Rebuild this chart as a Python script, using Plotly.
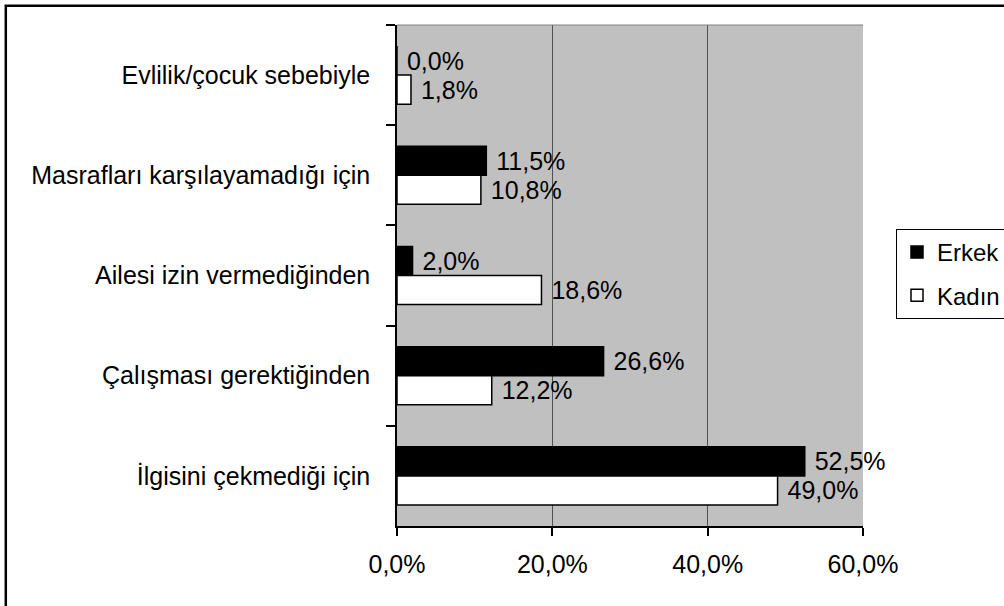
import plotly.graph_objects as go

categories = ["Evlilik/çocuk sebebiyle", "Masrafları karşılayamadığı için",
              "Ailesi izin vermediğinden", "Çalışması gerektiğinden",
              "İlgisini çekmediği için"]
erkek = [0.0, 11.5, 2.0, 26.6, 52.5]
kadin = [1.8, 10.8, 18.6, 12.2, 49.0]
tick_vals = [0, 20, 40, 60]
tick_text = ["0,0%", "20,0%", "40,0%", "60,0%"]

FONT = "Arial, 'Liberation Sans', sans-serif"
FS = 25

fig = go.Figure()
fig.add_trace(go.Bar(
    name="Erkek", y=categories, x=erkek, orientation="h", legendgroup="e",
    marker=dict(color="black", line=dict(color="black", width=1.5)),
    texttemplate="\u00a0%{x:.1f}%", textposition="outside", cliponaxis=False,
    constraintext="none", textfont=dict(family=FONT, size=FS, color="black"),
))
fig.add_trace(go.Bar(
    name="Kadın", y=categories, x=kadin, orientation="h", legendgroup="k",
    marker=dict(color="white", line=dict(color="black", width=1.5)),
    texttemplate="\u00a0%{x:.1f}%", textposition="outside", cliponaxis=False,
    constraintext="none", textfont=dict(family=FONT, size=FS, color="black"),
))

W, H = 1030, 606
fig.update_layout(
    width=W, height=H,
    margin=dict(l=397, r=W - 863, t=25, b=80, autoexpand=False),
    paper_bgcolor="white", plot_bgcolor="#C0C0C0",
    barmode="group", bargap=0.42, bargroupgap=0,
    separators=",.",
    font=dict(family=FONT, size=FS, color="black"),
    legend=dict(
        x=(896 - 397) / 466, y=(526 - 229) / 501, xanchor="left", yanchor="top",
        bordercolor="black", borderwidth=1, bgcolor="white",
        font=dict(family=FONT, size=24, color="black"),
        itemwidth=30, tracegroupgap=9,
    ),
    showlegend=True,
)
fig.update_xaxes(
    range=[0, 60], tickvals=tick_vals, ticktext=tick_text,
    showgrid=True, gridcolor="#505050", gridwidth=1,
    showline=True, linecolor="black", linewidth=1.5,
    ticks="outside", ticklen=8, tickcolor="black", tickwidth=1.5,
    ticklabelstandoff=7, zeroline=False,
    tickfont=dict(family=FONT, size=FS, color="black"),
)
fig.update_yaxes(
    categoryorder="array", categoryarray=categories, autorange="reversed",
    showgrid=False, showline=True, linecolor="black", linewidth=1.5,
    ticks="outside", tickson="boundaries", ticklen=9, tickcolor="black", tickwidth=1.5,
    ticklabelstandoff=20,
    tickfont=dict(family=FONT, size=FS, color="black"),
)
# plot-area top border
fig.add_shape(type="line", xref="paper", yref="paper", x0=0, x1=1, y0=1, y1=1,
              line=dict(color="#808080", width=1))
# outer chart border (extends past the right/bottom edge of the window)
fig.add_shape(type="rect", xref="paper", yref="paper",
              x0=-0.8395, x1=1.35, y0=-0.2, y1=1.0383,
              line=dict(color="black", width=2.5), fillcolor="rgba(0,0,0,0)")

fig.write_html("out.html", config={"displayModeBar": False},
               post_script="document.body.style.margin='0';document.body.style.overflow='hidden';")
